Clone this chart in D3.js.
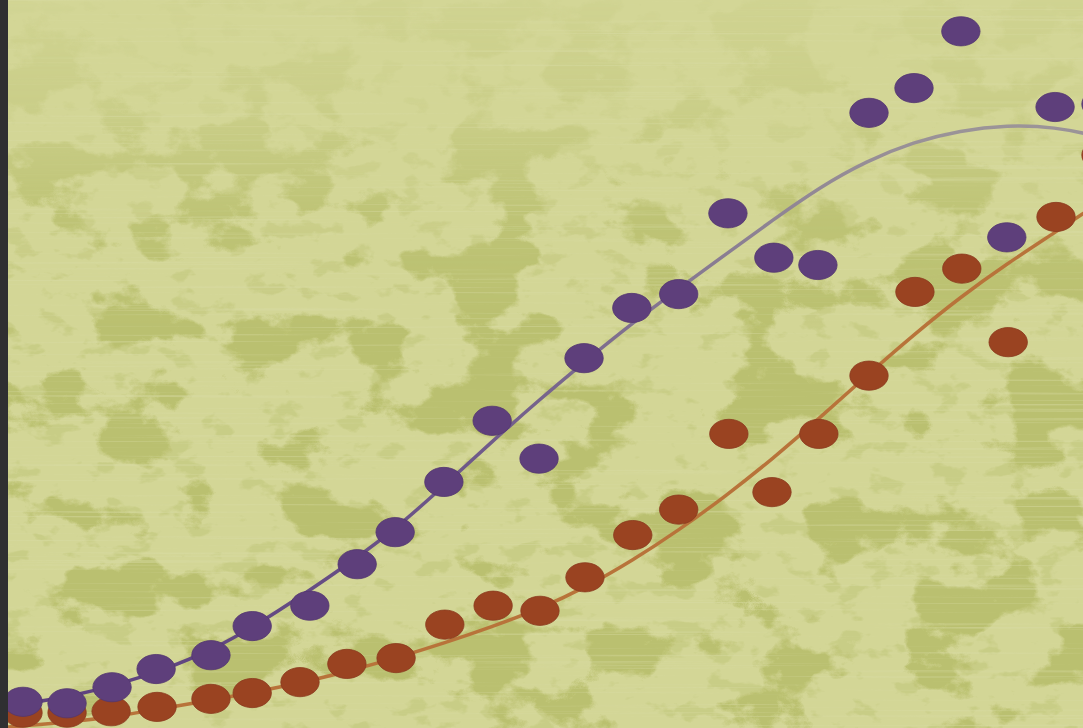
<!DOCTYPE html>
<html>
<head>
<meta charset="utf-8">
<script src="https://cdn.jsdelivr.net/npm/d3@7"></script>
<style>
html,body{margin:0;padding:0;background:#2f2f31;overflow:hidden;}
svg{display:block;}
</style>
</head>
<body>
<script>
// ---- data ----
const purpleX = [0, 0.94, 1.90, 2.84, 4.01, 4.89, 6.12, 7.13, 7.94, 8.98, 10.01, 11.01, 11.97, 12.99, 13.99, 15.04, 16.02, 16.96, 18.05, 19.01, 20.01, 20.99, 22.02, 23];
const purpleValues = [3.6, 3.4, 5.6, 8.1, 10.0, 14.0, 16.8, 22.5, 26.9, 33.8, 42.2, 37.0, 50.8, 57.7, 59.6, 70.7, 64.6, 63.6, 84.5, 87.9, 95.7, 67.4, 85.3, 85.7];
const orangeX = [0, 0.94, 1.88, 2.86, 4.01, 4.89, 5.91, 6.91, 7.96, 9.00, 10.03, 11.03, 11.99, 13.01, 13.99, 15.06, 15.98, 16.98, 18.05, 19.03, 20.03, 21.02, 22.04, 23];
const orangeValues = [2.1, 2.1, 2.3, 2.9, 4.0, 4.8, 6.3, 8.8, 9.6, 14.2, 16.8, 16.1, 20.7, 26.5, 30.0, 40.4, 32.4, 40.4, 48.4, 59.9, 63.1, 53.0, 70.2, 78.7];
const fitX = [-0.6, 0, 1, 2, 3, 4, 5, 6, 7, 8, 9, 10, 11, 12, 13, 14, 15, 16, 17, 18, 19, 20, 21, 22, 23, 23.6];
const purpleFit = [2.9, 3.3, 4.3, 5.9, 8.0, 10.6, 14.2, 18.4, 22.8, 27.6, 33.4, 39.3, 45.0, 50.4, 55.6, 60.4, 65.1, 69.8, 74.3, 77.9, 80.5, 82.1, 82.8, 82.6, 81.2, 80.0];
const orangeFit = [0.0, 0.3, 0.8, 1.6, 2.7, 3.8, 5.0, 6.3, 7.9, 9.7, 11.7, 13.9, 16.3, 19.3, 23.0, 27.2, 31.9, 37.0, 42.6, 48.4, 54.0, 59.2, 63.8, 68.0, 72.3, 74.9];

// ---- layout ----
const W = 1083, H = 728, stripW = 8;
const svg = d3.select("body").append("svg").attr("width", W).attr("height", H);
const defs = svg.append("defs");

function noiseFilter(id, freq, oct, seed, slope, intercept, color) {
  const f = defs.append("filter").attr("id", id).attr("filterUnits", "userSpaceOnUse")
    .attr("x", stripW).attr("y", 0).attr("width", W - stripW).attr("height", H);
  f.append("feTurbulence").attr("type", "fractalNoise").attr("baseFrequency", freq)
    .attr("numOctaves", oct).attr("seed", seed).attr("result", "n");
  f.append("feColorMatrix").attr("in", "n").attr("type", "matrix")
    .attr("values", "0 0 0 0 0  0 0 0 0 0  0 0 0 0 0  1 0 0 0 0").attr("result", "a");
  f.append("feComponentTransfer").attr("in", "a").attr("result", "t")
    .append("feFuncA").attr("type", "linear").attr("slope", slope).attr("intercept", intercept);
  f.append("feFlood").attr("flood-color", color).attr("result", "c");
  f.append("feComposite").attr("in", "c").attr("in2", "t").attr("operator", "in");
}
noiseFilter("blotch", "0.011 0.016", 6, 23, 14, -7.6, "#bac06f");
noiseFilter("blotch2", "0.03 0.05", 4, 5, 10, -5.9, "#c2c77c");
noiseFilter("streak", "0.0025 0.45", 3, 4, 4, -2.3, "#d9dca6");

// vertical mask: fewer blotches at the top
const mg = defs.append("linearGradient").attr("id", "mg").attr("x1", 0).attr("y1", 0).attr("x2", 0).attr("y2", 1);
[[0, 0.12], [0.15, 0.35], [0.3, 0.85], [0.45, 1], [1, 1]].forEach(s =>
  mg.append("stop").attr("offset", s[0]).attr("stop-color", "#fff").attr("stop-opacity", s[1]));
defs.append("mask").attr("id", "m").append("rect").attr("x", 0).attr("y", 0).attr("width", W).attr("height", H).attr("fill", "url(#mg)");

defs.append("clipPath").attr("id", "clip").append("rect").attr("x", stripW).attr("y", 0).attr("width", W - stripW).attr("height", H);

// purple line gradient
const lg = defs.append("linearGradient").attr("id", "pl").attr("gradientUnits", "userSpaceOnUse")
  .attr("x1", 0).attr("y1", 728).attr("x2", 0).attr("y2", 120);
lg.append("stop").attr("offset", "0").attr("stop-color", "#5c3f7e");
lg.append("stop").attr("offset", "0.45").attr("stop-color", "#6f5a8a");
lg.append("stop").attr("offset", "1").attr("stop-color", "#9c9598");

// background
svg.append("rect").attr("x", 0).attr("y", 0).attr("width", W).attr("height", H).attr("fill", "#2f2f31");
const bg = svg.append("g").attr("clip-path", "url(#clip)");
bg.append("rect").attr("x", stripW).attr("y", 0).attr("width", W - stripW).attr("height", H).attr("fill", "#d3d696");
const bm = bg.append("g").attr("mask", "url(#m)");
bm.append("rect").attr("x", stripW).attr("y", 0).attr("width", W - stripW).attr("height", H).attr("filter", "url(#blotch2)").attr("opacity", 0.6);
bm.append("rect").attr("x", stripW).attr("y", 0).attr("width", W - stripW).attr("height", H).attr("filter", "url(#blotch)");
bg.append("rect").attr("x", stripW).attr("y", 0).attr("width", W - stripW).attr("height", H).attr("filter", "url(#streak)").attr("opacity", 0.45);

// scales
const x = d3.scaleLinear().domain([0, 23]).range([23, 1101]);
const y = d3.scaleLinear().domain([0, 100]).range([728, 0]);

const plot = svg.append("g").attr("clip-path", "url(#clip)");
const line = d3.line().x(d => x(d[0])).y(d => y(d[1])).curve(d3.curveBasis);

plot.append("path").datum(fitX.map((v, i) => [v, orangeFit[i]]))
  .attr("d", line).attr("fill", "none").attr("stroke", "#b8733a").attr("stroke-width", 3.5);
plot.append("path").datum(fitX.map((v, i) => [v, purpleFit[i]]))
  .attr("d", line).attr("fill", "none").attr("stroke", "url(#pl)").attr("stroke-width", 3.5);

plot.append("g").selectAll("ellipse").data(orangeX.map((v, i) => [v, orangeValues[i]])).join("ellipse")
  .attr("cx", d => x(d[0])).attr("cy", d => y(d[1])).attr("rx", 19.2).attr("ry", 14.6)
  .attr("fill", "#9a4321").attr("stroke", "#8a3a1e").attr("stroke-width", 0.8);
plot.append("g").selectAll("ellipse").data(purpleX.map((v, i) => [v, purpleValues[i]])).join("ellipse")
  .attr("cx", d => x(d[0])).attr("cy", d => y(d[1])).attr("rx", 19.2).attr("ry", 14.6)
  .attr("fill", "#5e3f7b").attr("stroke", "#533670").attr("stroke-width", 0.8);
</script>
</body>
</html>
